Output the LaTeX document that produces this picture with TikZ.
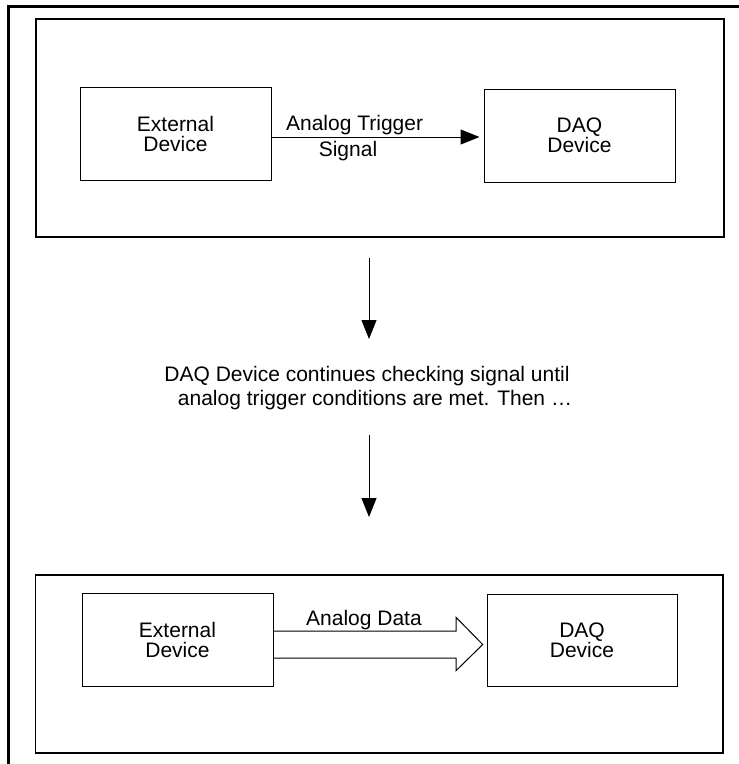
\documentclass[tikz,border=0pt]{standalone}
\usepackage{fontspec}
\setmainfont{Liberation Sans}
\usetikzlibrary{arrows.meta}
\tikzset{
  devbox/.style={draw, line width=1pt, inner sep=0pt, align=center,
    minimum width=191pt, minimum height=93pt,
    font=\fontsize{21}{20}\selectfont},
  panel/.style={draw, line width=1.4pt, inner sep=0pt},
  lbl/.style={anchor=base, inner sep=0pt, font=\fontsize{21}{24}\selectfont},
  sig/.style={line width=1pt, -{Triangle[length=19pt,width=15pt]}},
  hollow/.style={line width=1pt, line join=miter},
  frame/.style={line width=3pt, line join=miter},
}
\begin{document}
\begin{tikzpicture}[x=1pt, y=-1pt]
\useasboundingbox (0,0) rectangle (739,764);
% outer frame
\coordinate (fA) at (8.7,764);
\coordinate (fB) at (8.7,6.5);
\coordinate (fC) at (739,6.5);
\draw[frame] (fA) -- (fB) -- (fC);
% panels
\node[panel, minimum width=688pt, minimum height=218pt] (panel1) at (380,128) {};
\node[panel, minimum width=687.5pt, minimum height=178pt] (panel2) at (379.25,664) {};
% top row
\node[devbox] (ext1) at (175.5,133.5) {External\\Device};
\node[devbox] (daq1) at (579.5,135.5) {DAQ\\Device};
\draw[sig, shorten >=4pt] ([yshift=-3.5pt]ext1.east) -- ([yshift=-1.5pt]daq1.west);
\node[lbl] (trigA) at (354.6,130) {Analog Trigger};
\node[lbl] (trigB) at (348,156.7) {Signal};
% vertical arrows and text
\coordinate (v1s) at (369,258);
\coordinate (v1e) at (369,339);
\draw[sig] (v1s) -- (v1e);
\node[lbl] (msgA) at (367,381) {DAQ Device continues checking signal until};
\node[lbl] (msgB) at (375,405) {analog trigger conditions are met. Then …};
\coordinate (v2s) at (369,435);
\coordinate (v2e) at (369,517);
\draw[sig] (v2s) -- (v2e);
% bottom row
\node[devbox] (ext2) at (177.5,639.5) {External\\Device};
\node[devbox, minimum width=190pt, minimum height=92pt] (daq2) at (582,640) {DAQ\\Device};
\draw[hollow] (ext2.east |- 0,631) -- (456,631) -- (456,617.3) -- (482.7,644.5)
  -- (456,670.7) -- (456,658) -- (ext2.east |- 0,658);
\node[lbl] (dataA) at (364,625) {Analog Data};
\end{tikzpicture}
\end{document}
